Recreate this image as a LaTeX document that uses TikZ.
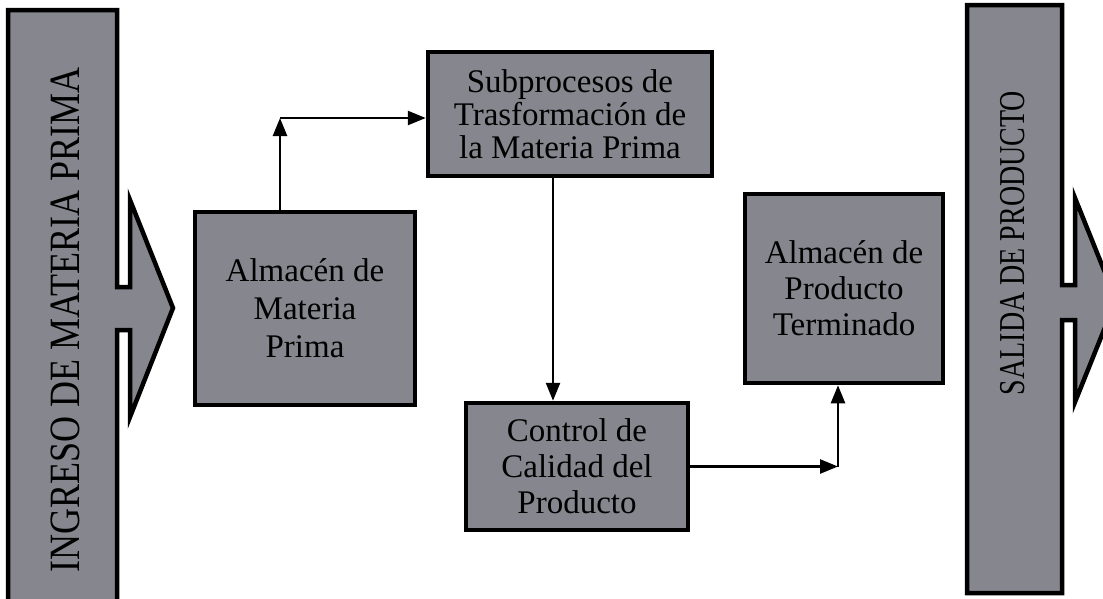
\documentclass[tikz,border=0pt]{standalone}
\usepackage{fontspec}
\setmainfont{Liberation Serif}
\usepackage{tikz}
\usetikzlibrary{arrows.meta,calc}
\definecolor{tramado}{RGB}{134,134,142}

\begin{document}
\begin{tikzpicture}[
x=1pt, y=-1pt,
etapa/.style={draw=black, line width=4.5pt, fill=tramado, align=center, inner sep=0pt, font=\fontsize{33}{36}\selectfont},
flujo/.style={line width=2.5pt, -{Triangle[length=18pt,width=14pt]}},
barra/.style={draw=black, line width=4.5pt, fill=tramado, line join=miter}
]
    % Marco de la figura
    \useasboundingbox (0,0) rectangle (1103,598);

    % Barra de ingreso
    \draw[barra] (8,10) -- (117,10) -- (117,287) -- (130,287) -- (130,200)
        -- (173,308) -- (130,417) -- (130,330) -- (117,330) -- (117,610)
        -- (8,610) -- cycle;
    \node[rotate=90, font=\fontsize{36}{40}\selectfont] (ingreso) at (65,320) {\scalebox{1}[1.2]{INGRESO DE MATERIA PRIMA}};

    % Barra de salida
    \draw[barra] (967,5) -- (1062,5) -- (1062,285) -- (1075,285) -- (1075,198)
        -- (1116,300) -- (1075,402) -- (1075,320) -- (1062,320) -- (1062,593)
        -- (967,593) -- cycle;
    \node[rotate=90, font=\fontsize{28}{32}\selectfont] (salida) at (1013,243) {\scalebox{1}[1.3]{SALIDA DE PRODUCTO}};

    % Etapas
    \node[etapa, minimum width=220pt, minimum height=193pt, font=\fontsize{33}{38}\selectfont] (almmp) at (305,308.5) {Almacén de\\Materia\\Prima};
    \node[etapa, minimum width=284pt, minimum height=124pt, font=\fontsize{33}{33}\selectfont] (subpro) at (570,114) {Subprocesos de\\Trasformación de\\la Materia Prima};
    \node[etapa, minimum width=222pt, minimum height=127pt] (control) at (577,466.5) {Control de\\Calidad del\\Producto};
    \node[etapa, minimum width=198pt, minimum height=189pt] (almpt) at (844,288.5) {Almacén de\\Producto\\Terminado};

    % Flujo
    \coordinate (codo1) at ($(almmp.north)+(-25,0)$);
    \coordinate (codo1) at (codo1 |- {$(subpro.west)+(0,4)$});
    \draw[flujo] ([xshift=-25pt]almmp.north) -- (codo1);
    \draw[flujo] (codo1) -- (codo1 -| subpro.west);

    \draw[flujo] ([xshift=-17pt]subpro.south) -- ([xshift=-17pt]subpro.south |- control.north);

    \coordinate (codo2) at ([xshift=-6pt]almpt.south |- control.east);
    \draw[flujo] (control.east) -- (codo2);
    \draw[flujo] (codo2) -- (codo2 |- almpt.south);

\end{tikzpicture}
\end{document}
